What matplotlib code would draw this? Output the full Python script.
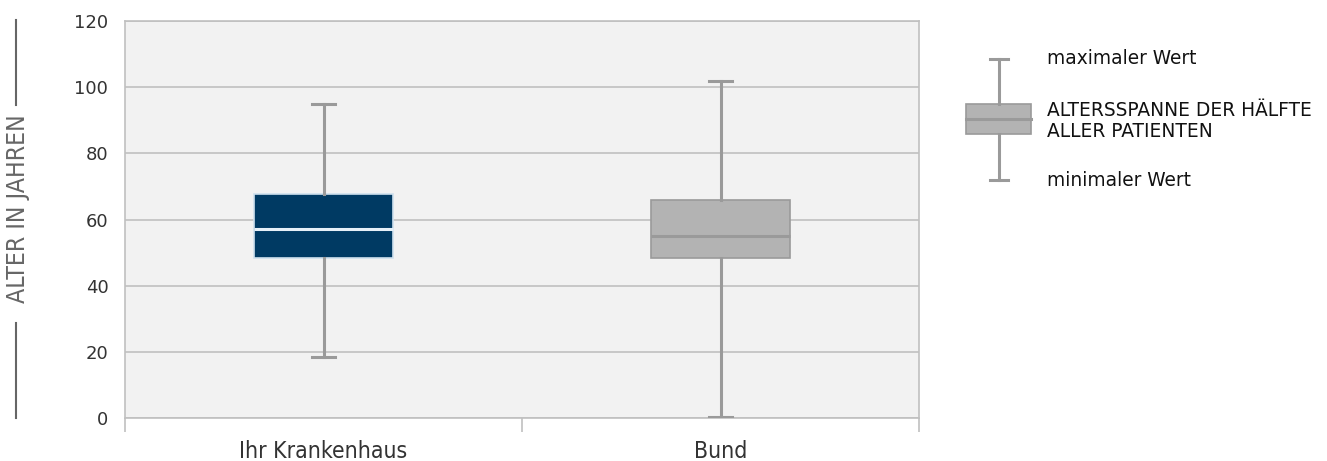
import matplotlib.pyplot as plt
from matplotlib.lines import Line2D
from matplotlib.patches import Rectangle

# data
categories = ['Ihr Krankenhaus', 'Bund']
minimum = [18.3, 0.3]
q1 = [48.3, 48.3]
median = [57.1, 55.0]
q3 = [67.7, 65.9]
maximum = [94.9, 101.8]

box_face = ['#003a63', '#b3b3b3']
box_edge = ['#cfe0ee', '#9a9a9a']
median_col = ['#e6f0f8', '#9a9a9a']
whisk_col = '#9a9a9a'

W, H = 1327, 461
fig = plt.figure(figsize=(W / 100, H / 100), dpi=100)
ax = fig.add_axes([125 / W, 1 - 418 / H, (919 - 125) / W, (418 - 21) / H])
ax.set_facecolor('#f2f2f2')

stats = []
for i, c in enumerate(categories):
    stats.append(dict(label=c, whislo=minimum[i], q1=q1[i], med=median[i],
                      q3=q3[i], whishi=maximum[i]))

for i, s in enumerate(stats):
    ax.bxp([s], positions=[i], widths=0.35, showfliers=False, patch_artist=True,
           boxprops=dict(facecolor=box_face[i], edgecolor=box_edge[i], linewidth=1.2),
           medianprops=dict(color=median_col[i], linewidth=2.2),
           whiskerprops=dict(color=whisk_col, linewidth=2.2),
           capprops=dict(color=whisk_col, linewidth=2.2),
           capwidths=0.06, zorder=3)

ax.set_xlim(-0.5, 1.5)
ax.set_ylim(0, 120)
ax.set_yticks(range(0, 121, 20))
ax.yaxis.grid(True, color='#c0c0c0', linewidth=1.2)
ax.set_axisbelow(True)
ax.tick_params(axis='y', length=0, labelsize=13, labelcolor='#333333', pad=12)

ax.set_xticks([-0.5, 0.5, 1.5], minor=False)
ax.set_xticklabels([])
ax.tick_params(axis='x', which='major', length=10, width=1.2, color='#c0c0c0')
ax.set_xticks([0, 1], minor=True)
ax.set_xticklabels(categories, minor=True, fontsize=16.5, fontstretch='condensed',
                   color='#333333')
ax.tick_params(axis='x', which='minor', length=0, pad=16)
for sp in ax.spines.values():
    sp.set_color('#c0c0c0')
    sp.set_linewidth(1.2)

# y axis title with lines
fig.text(18 / W, 1 - 209 / H, 'ALTER IN JAHREN', rotation=90, ha='center', va='center',
         fontsize=17.8, fontstretch='condensed', color='#666666')
for y0, y1 in [(20, 105), (323, 418)]:
    fig.add_artist(Line2D([16 / W, 16 / W], [1 - y0 / H, 1 - y1 / H], color='#666666',
                          linewidth=1.5))

# legend glyph
def fx(x):
    return x / W

def fy(y):
    return 1 - y / H

lc = '#9a9a9a'
fig.add_artist(Line2D([fx(999), fx(999)], [fy(59), fy(104)], color=lc, linewidth=2.2))
fig.add_artist(Line2D([fx(999), fx(999)], [fy(134), fy(180)], color=lc, linewidth=2.2))
fig.add_artist(Line2D([fx(990), fx(1008)], [fy(59), fy(59)], color=lc, linewidth=2.2))
fig.add_artist(Line2D([fx(990), fx(1008)], [fy(180), fy(180)], color=lc, linewidth=2.2))
fig.add_artist(Rectangle((fx(966), fy(134)), fx(1031) - fx(966), fy(104) - fy(134),
                         facecolor='#b3b3b3', edgecolor='#9a9a9a', linewidth=1.2,
                         transform=fig.transFigure))
fig.add_artist(Line2D([fx(966), fx(1031)], [fy(119), fy(119)], color=lc, linewidth=2.2))

fig.text(fx(1047), fy(59), 'maximaler Wert', va='center', fontsize=13.4, color='#111111')
fig.text(fx(1047), fy(121), 'ALTERSSPANNE DER HÄLFTE\nALLER PATIENTEN', va='center',
         fontsize=13.4, color='#111111', linespacing=1.15)
fig.text(fx(1047), fy(180), 'minimaler Wert', va='center', fontsize=13.4, color='#111111')

fig.savefig('out.png', dpi=100)
